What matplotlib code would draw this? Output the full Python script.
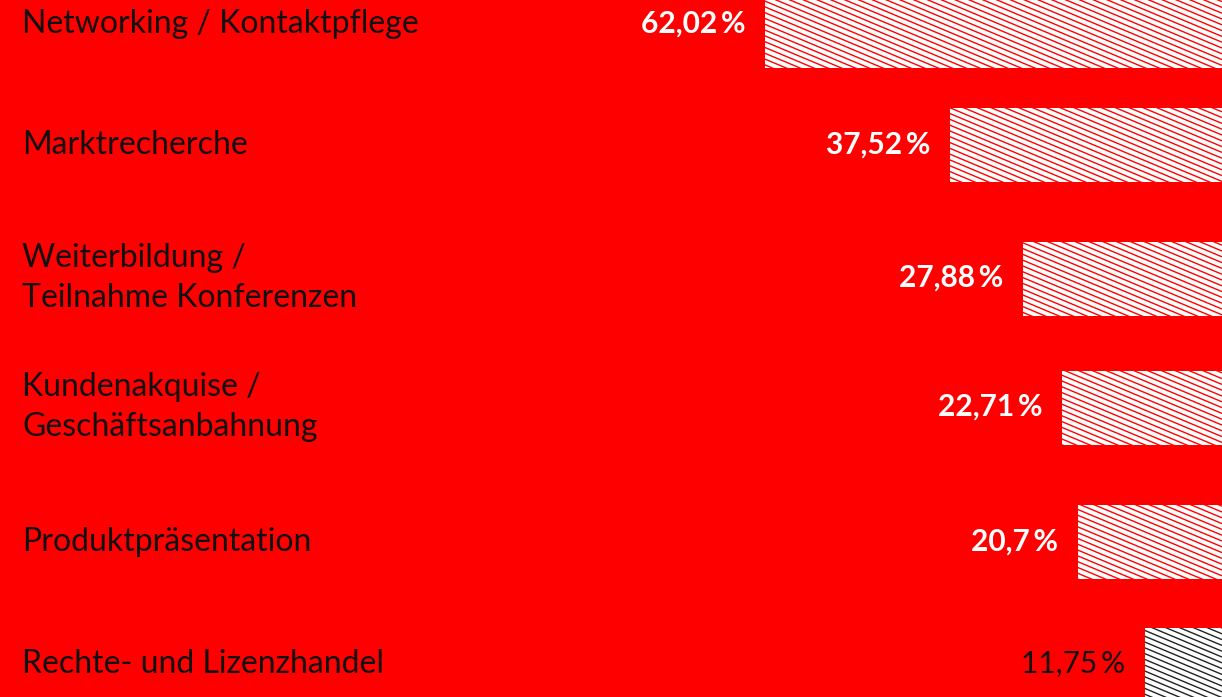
import numpy as np
import matplotlib
matplotlib.use("Agg")
import matplotlib.pyplot as plt
import matplotlib.transforms as mtransforms
from matplotlib.collections import LineCollection

categories = ["Networking / Kontaktpflege",
              "Marktrecherche",
              "Weiterbildung /\nTeilnahme Konferenzen",
              "Kundenakquise /\nGeschäftsanbahnung",
              "Produktpräsentation",
              "Rechte- und Lizenzhandel"]
values = [62.02, 37.52, 27.88, 22.71, 20.7, 11.75]
value_labels = ["62,02\u2009%", "37,52\u2009%", "27,88\u2009%",
                "22,71\u2009%", "20,7\u2009%", "11,75\u2009%"]

# layout (pixels from top)
bar_centers = [31, 145, 278.5, 408, 541.5, 665]
label_centers = [24, 145, 278, 407, 542, 664]
bar_height = 74

RED = "#ff0000"
W, H = 1222, 697

fig = plt.figure(figsize=(W / 100, H / 100), dpi=100, facecolor=RED)
ax = fig.add_axes([0, 0, 1, 1], facecolor=RED)

# zero sits a little right of the image edge
px_per_val = 7.56
zero_px = 1234
ax.set_xlim(zero_px / px_per_val, (zero_px - W) / px_per_val)
ax.set_ylim(H, 0)
ax.axis("off")

bars = ax.barh(bar_centers, values, height=bar_height, color="white",
               edgecolor="none")

hatch_colors = [RED] * 5 + ["#222222"]
text_colors = ["white"] * 5 + ["#111111"]
text_weights = ["bold"] * 5 + ["normal"]

# shallow diagonal hatching, drawn in pixel space and clipped to each bar
pix = mtransforms.Affine2D().scale(1 / W, 1 / H) + ax.transAxes
slope = 0.42
step = 5.8
offsets = np.arange(-50, H + W * slope + 50, step)
segs = [[(0, c), (W, c - slope * W)] for c in offsets]
for bar, hc in zip(bars, hatch_colors):
    lc = LineCollection(segs, colors=hc, linewidths=1.0, transform=pix)
    ax.add_collection(lc)
    lc.set_clip_path(bar)

for bar, lab, yc, tc, tw in zip(bars, value_labels, label_centers,
                                text_colors, text_weights):
    xl = bar.get_x() + bar.get_width()
    ax.annotate(lab, (xl, yc), xytext=(-20, 0), textcoords="offset pixels",
                ha="right", va="center", fontsize=21.5, color=tc,
                fontweight=tw, family=["Lato", "DejaVu Sans"])

for cat, yc in zip(categories, label_centers):
    ax.text(22 / W, 1 - yc / H, cat, transform=ax.transAxes,
            ha="left", va="center", fontsize=23, color="#111111",
            fontweight="normal", linespacing=1.38,
            family=["Lato", "DejaVu Sans"])

fig.savefig("out.png", dpi=100, facecolor=RED)
